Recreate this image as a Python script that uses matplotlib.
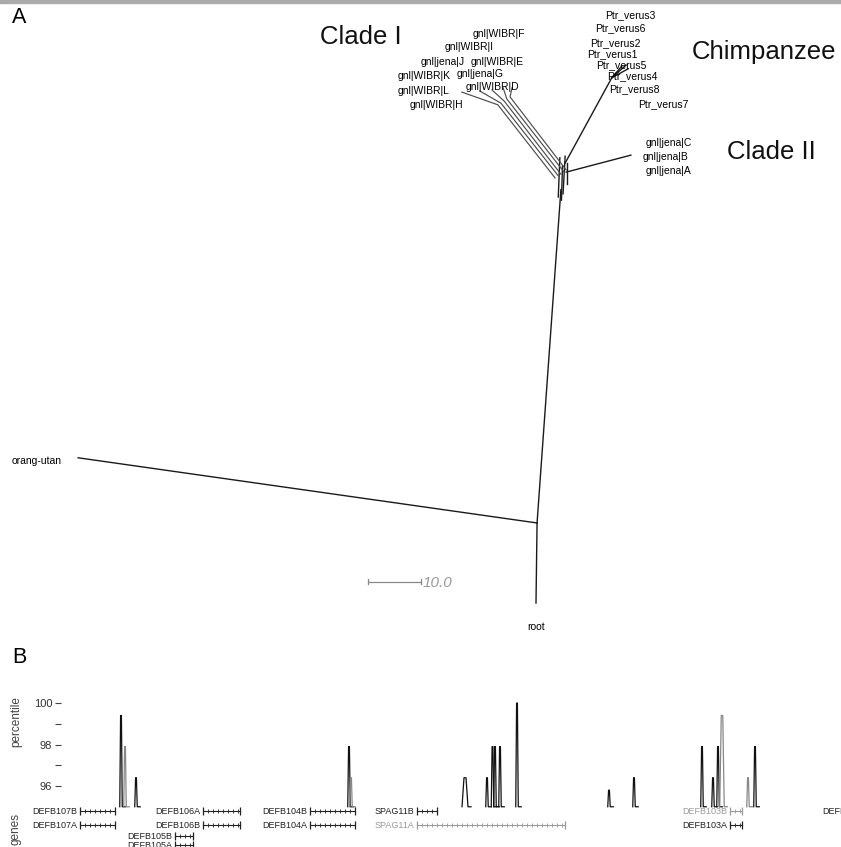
import matplotlib
matplotlib.use("Agg")
import numpy as np
import matplotlib.pyplot as plt
from matplotlib.patches import Rectangle

plt.rcParams['font.family'] = ['Liberation Sans', 'DejaVu Sans']

# ---- panel A: tree, node positions in branch-length units (root tip at origin)
nodes = {
    'root': (0.0, 0.0), 'orang_join': (0.2, 15.1), 'orang': (-86.4, 27.4),
    'hub': (4.7, 78.0),
    'hub_a0': (4.2, 76.6), 'hub_a1': (4.5, 84.0),
    'hub_b0': (5.1, 77.2), 'hub_b1': (5.5, 84.3),
    'hub_c0': (5.9, 79.0), 'hub_c1': (5.9, 83.0),
    'hub_d0': (4.8, 76.0), 'hub_d1': (5.0, 82.5),
    'c2_base': (5.7, 81.3), 'c2_tip': (17.9, 84.5),
    'ch_base': (5.5, 83.0), 'ch_node': (14.3, 99.1),
    'ch_t1': (16.2, 101.3), 'ch_t2': (17.0, 101.5), 'ch_t3': (17.4, 100.8), 'ch_t4': (15.5, 100.2),
}
clade1_base = [(3.6, 80.2), (4.2, 80.6), (4.7, 80.9), (5.3, 81.3), (5.7, 81.7)]
clade1_top = [(-7.2, 94.0), (-6.6, 94.3), (-6.0, 94.7), (-5.5, 95.1), (-4.9, 95.5)]
clade1_tips = [(-14.0, 96.4), (-10.6, 96.6), (-8.3, 96.8), (-6.2, 97.2), (-4.5, 97.3)]

edges = [
    ('root', 'orang_join'), ('orang_join', 'orang'), ('orang_join', 'hub'),
    ('hub_a0', 'hub_a1'), ('hub_b0', 'hub_b1'), ('hub_c0', 'hub_c1'), ('hub_d0', 'hub_d1'),
    ('c2_base', 'c2_tip'), ('ch_base', 'ch_node'),
    ('ch_node', 'ch_t1'), ('ch_node', 'ch_t2'), ('ch_node', 'ch_t3'), ('ch_node', 'ch_t4'),
]

# leaf labels: (text, x, y) left edge / vertical centre
leaf_labels = [
    ('Ptr_verus3', 13.0, 110.9), ('Ptr_verus6', 11.1, 108.5), ('Ptr_verus2', 10.2, 105.7),
    ('Ptr_verus1', 9.6, 103.6), ('Ptr_verus5', 11.3, 101.5), ('Ptr_verus4', 13.4, 99.4),
    ('Ptr_verus8', 13.8, 97.0), ('Ptr_verus7', 19.3, 94.2),
    ('gnl|jena|C', 20.6, 86.8), ('gnl|jena|B', 20.2, 84.2), ('gnl|jena|A', 20.6, 81.5),
    ('gnl|WIBR|F', -11.9, 107.4), ('gnl|WIBR|I', -17.2, 104.9), ('gnl|jena|J', -21.7, 102.1),
    ('gnl|WIBR|E', -12.3, 102.1), ('gnl|WIBR|K', -26.2, 99.4), ('gnl|jena|G', -14.9, 99.8),
    ('gnl|WIBR|D', -13.2, 97.4), ('gnl|WIBR|L', -26.2, 96.6), ('gnl|WIBR|H', -23.8, 94.0),
    ('orang-utan', -98.9, 26.8),
]
clade_labels = [('Clade I', -40.8, 106.8), ('Chimpanzee', 29.4, 104.0), ('Clade II', 36.0, 85.1)]
scale_len = 10.0

# ---- panel B: percentile peaks (position kb, percentile)
dark_pos = [24.2, 27.2, 69.8, 93.0, 97.4, 98.5, 99.0, 100.0, 103.4, 121.8, 126.8,
            140.4, 142.6, 143.6, 151.0]
dark_pct = [99.4, 96.4, 97.9, 96.4, 96.4, 97.9, 97.9, 97.9, 100.0, 95.8, 96.4,
            97.9, 96.4, 97.9, 97.9]
grey_pos = [25.0, 70.2, 144.4, 149.6]
grey_pct = [97.9, 96.4, 99.4, 96.4]
baseline = 95.0

# genes: name, start kb, end kb, row, grey
gene_names = ['DEFB107B', 'DEFB107A', 'DEFB106A', 'DEFB106B', 'DEFB105B', 'DEFB105A',
              'DEFB104B', 'DEFB104A', 'SPAG11B', 'SPAG11A', 'DEFB103B', 'DEFB103A', 'DEFB4']
gene_start = [16.0, 16.0, 40.6, 40.6, 35.0, 35.0, 62.0, 62.0, 83.4, 83.4, 146.0, 146.0, 170.8]
gene_end = [23.0, 23.0, 48.0, 48.0, 38.6, 38.6, 71.0, 71.0, 87.4, 113.0, 148.4, 148.4, 176.0]
gene_row = [0, 1, 0, 1, 1.8, 2.45, 0, 1, 0, 1, 0, 1, 0]
gene_grey = [0, 0, 0, 0, 0, 0, 0, 0, 0, 1, 1, 0, 0]

W, H = 841, 847
fig = plt.figure(figsize=(W / 100, H / 100), dpi=100)
fig.patches.append(Rectangle((0, 1 - 3 / H), 1, 3 / H, transform=fig.transFigure,
                             color='#aaaaaa', zorder=0))

# tree axes covers whole figure, 5.3 px per unit
ax = fig.add_axes([0, 0, 1, 1])
ax.set_xlim(-536 / 5.3, (W - 536) / 5.3)
ax.set_ylim((603 - H) / 5.3, 603 / 5.3)
ax.axis('off')

for a, b in edges:
    (x0, y0), (x1, y1) = nodes[a], nodes[b]
    ax.plot([x0, x1], [y0, y1], color='#1a1a1a', lw=1.0)
for (x0, y0), (x1, y1), (x2, y2) in zip(clade1_base, clade1_top, clade1_tips):
    ax.plot([x0, x1, x2], [y0, y1, y2], color='#4d4d4d', lw=0.85)

for txt, x, y in leaf_labels:
    ax.text(x, y, txt, fontsize=7.5, color='#000000', ha='left', va='center')
ax.text(0, -4.5, 'root', fontsize=7.5, color='#000000', ha='center', va='center')
for txt, x, y in clade_labels:
    ax.text(x, y, txt, fontsize=18.5, color='#111111', ha='left', va='center')
ax.text(-98.9, 110.4, 'A', fontsize=15.5, ha='left', va='center')
ax.text(-98.9, -10.2, 'B', fontsize=15.5, ha='left', va='center')

# scale bar
sx, sy = -31.7, 4.0
ax.plot([sx, sx], [sy - 0.5, sy + 0.5], color='#888888', lw=0.9)
ax.plot([sx, sx + scale_len], [sy, sy], color='#888888', lw=0.9)
ax.plot([sx + scale_len, sx + scale_len], [sy - 0.5, sy + 0.5], color='#888888', lw=0.9)
ax.text(sx + scale_len + 0.3, sy - 0.3, '%.1f' % scale_len, fontsize=11, style='italic',
        color='#999999', ha='left', va='center')

# percentile panel
axp = fig.add_axes([58 / W, 1 - 808 / H, 1 - 58 / W, 113 / H])
axp.patch.set_alpha(0)
axp.set_xlim(58 / 5, W / 5)
axp.set_ylim(94.94, 100.39)
for s in axp.spines.values():
    s.set_visible(False)
axp.set_xticks([])
axp.set_yticks([96, 98, 100])
axp.set_yticks([97, 99], minor=True)
axp.tick_params(axis='y', which='both', direction='inout', length=4.3, width=0.8,
                color='#444444', pad=2, labelsize=8, labelcolor='#333333')

def spike(p, top, color, w=0.25):
    # narrow peak with a short foot along the baseline
    axp.plot([p - w, p - w / 3, p + w / 3, p + w, p + w + 0.6],
             [baseline, top, top, baseline, baseline], color=color, lw=0.9)

for p, t in zip(dark_pos, dark_pct):
    spike(p, t, '#111111', 0.6 if p == 93.0 else 0.25)
for p, t in zip(grey_pos, grey_pct):
    spike(p, t, '#888888', 0.45 if t > 99 else 0.25)

fig.text(16 / W, 1 - 722 / H, 'percentile', rotation=90, fontsize=8.5, color='#444444',
         ha='center', va='center')
fig.text(16 / W, 1 - 829 / H, 'genes', rotation=90, fontsize=8.5, color='#444444',
         ha='center', va='center')

# gene track
axg = fig.add_axes([0, 0, 1, 42 / H])
axg.patch.set_alpha(0)
axg.set_xlim(0, W / 5)
axg.set_ylim(2.57, -0.43)
axg.axis('off')
for name, g0, g1, r, grey in zip(gene_names, gene_start, gene_end, gene_row, gene_grey):
    c = '#9a9a9a' if grey else '#222222'
    axg.plot([g0, g1], [r, r], color=c, lw=0.8, clip_on=False)
    axg.plot([g0, g1], [r, r], ls='none', marker='|', ms=6, mew=0.9, color=c, clip_on=False)
    ticks = np.arange(g0 + 1.0, g1, 1.0)
    axg.plot(ticks, [r] * len(ticks), ls='none', marker='|', ms=2.5, mew=0.6, color=c,
             clip_on=False)
    axg.text(g0 - 0.6, r, name, fontsize=6.5, color=c, ha='right', va='center',
             clip_on=False)

fig.savefig('out.png', dpi=100)
